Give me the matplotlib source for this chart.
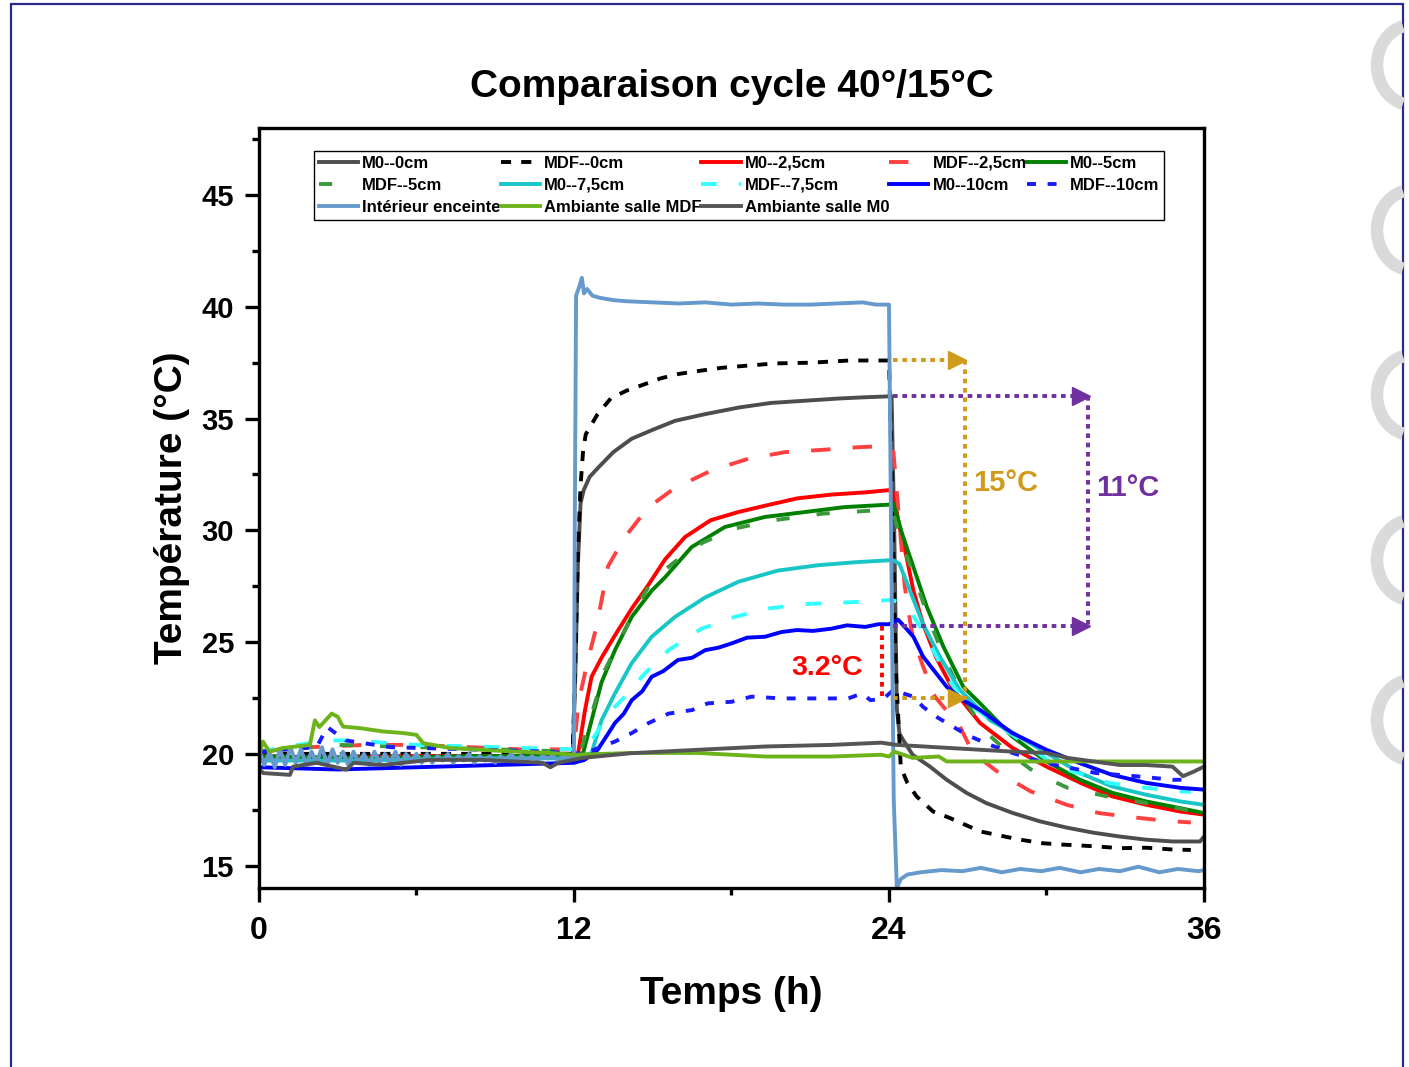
import matplotlib
matplotlib.use("Agg")
import matplotlib.pyplot as plt
from matplotlib.patches import Rectangle, Arc

# ---- data (time in h, temperature in degC) ----
m0_0_t = [0, 2, 4, 6, 8, 10, 11.95, 12.05, 12.15, 12.25, 12.37, 12.6, 13.0, 13.5, 14.2, 15.0, 15.85,
          17.0, 18.3, 19.5, 20.8, 22.1, 23.0, 24.1, 24.2, 24.3, 24.4, 24.55, 24.9, 25.56, 26.2, 26.96,
          27.7, 28.7, 29.75, 30.77, 31.8, 32.8, 33.8, 34.8, 35.85, 36.0]
m0_0_T = [19.9, 19.8, 19.9, 19.9, 19.9, 19.9, 19.9, 23.5, 28.5, 31.2, 31.8, 32.4, 32.9, 33.5, 34.1, 34.5,
          34.9, 35.2, 35.5, 35.7, 35.8, 35.9, 35.95, 36.0, 30.0, 22.0, 20.9, 20.6, 19.96, 19.43, 18.84,
          18.25, 17.8, 17.36, 16.98, 16.7, 16.47, 16.3, 16.16, 16.08, 16.08, 16.3]

mdf_0_t = [0, 3, 6, 9, 11.95, 12.05, 12.15, 12.25, 12.35, 12.45, 12.9, 13.4, 14.0, 14.6, 15.3, 16.0,
           16.8, 17.6, 18.6, 19.7, 21.0, 22.5, 24.0, 24.1, 24.25, 24.45, 24.7, 25.05, 25.68, 26.3,
           26.9, 27.47, 28.2, 29.0, 29.87, 30.6, 31.3, 32.0, 32.8, 33.8, 34.8, 35.5]
mdf_0_T = [20.0, 20.0, 20.0, 20.0, 20.0, 24.0, 29.0, 32.0, 33.6, 34.3, 35.2, 35.9, 36.25, 36.5, 36.8,
           37.0, 37.14, 37.27, 37.37, 37.47, 37.5, 37.6, 37.6, 33.0, 24.0, 19.4, 18.7, 18.1, 17.42,
           17.14, 16.83, 16.53, 16.35, 16.16, 16.0, 15.94, 15.9, 15.85, 15.78, 15.8, 15.72, 15.7]

m0_25_t = [0, 3, 6, 9, 12.0, 12.16, 12.42, 12.67, 13.05, 13.56, 14.2, 14.8, 15.47, 16.23, 17.2, 18.26,
           19.27, 20.5, 21.8, 23.1, 24.0, 24.17, 24.4, 24.67, 24.93, 25.3, 25.8, 26.45, 27.47, 28.7,
           30.0, 31.3, 32.5, 33.8, 35.1, 36.0]
m0_25_T = [19.9, 19.8, 19.9, 19.9, 19.9, 20.04, 21.96, 23.45, 24.3, 25.3, 26.5, 27.5, 28.7, 29.7, 30.45,
           30.82, 31.1, 31.43, 31.6, 31.7, 31.8, 31.64, 30.15, 28.8, 27.3, 25.8, 24.3, 22.86, 21.38,
           20.27, 19.43, 18.7, 18.1, 17.72, 17.42, 17.28]

mdf_25_t = [0, 2, 4, 6, 8, 10, 12.0, 12.17, 12.53, 12.86, 13.3, 13.94, 14.83, 15.85, 17.24, 18.63,
            20.04, 21.44, 22.83, 24.0, 24.17, 24.35, 24.6, 24.86, 25.25, 25.75, 26.7, 27.2, 28.2,
            29.4, 30.77, 32.0, 33.3, 34.6, 35.5]
mdf_25_T = [20.1, 20.3, 20.4, 20.4, 20.3, 20.2, 20.2, 22.3, 24.2, 25.7, 28.4, 29.7, 31.03, 31.9, 32.68,
            33.2, 33.5, 33.6, 33.72, 33.78, 33.5, 31.0, 27.5, 25.5, 24.06, 22.56, 21.22, 20.04, 19.14,
            18.32, 17.72, 17.35, 17.16, 17.0, 16.93]

m0_5_t = [0, 4, 8, 12.0, 12.35, 12.67, 13.05, 13.56, 14.2, 14.96, 15.47, 16.48, 17.75, 19.28, 20.8,
          22.3, 24.0, 24.17, 24.5, 24.93, 25.44, 26.07, 26.83, 27.47, 28.7, 30.0, 31.28, 32.5, 33.8,
          35.1, 36.0]
m0_5_T = [19.9, 19.8, 19.9, 19.9, 20.04, 21.5, 23.2, 24.64, 26.13, 27.3, 27.9, 29.25, 30.15, 30.6,
          30.82, 31.04, 31.15, 31.2, 29.85, 28.36, 26.58, 24.8, 23.0, 22.26, 20.77, 19.66, 18.84,
          18.26, 17.87, 17.57, 17.35]

mdf_5_t = [0, 3, 6, 9, 12.0, 12.3, 12.6, 13.18, 14.3, 15.0, 15.85, 16.9, 18.2, 19.6, 21.5, 23.6, 24.0,
           24.2, 24.5, 25.0, 25.5, 26.1, 26.8, 27.6, 28.6, 29.6, 30.8, 32.3, 33.8, 35.1, 36.0]
mdf_5_T = [20.1, 20.4, 20.3, 20.2, 20.1, 20.3, 21.5, 23.75, 26.4, 27.8, 28.6, 29.45, 30.1, 30.45,
           30.75, 30.9, 30.95, 30.6, 29.4, 27.8, 26.1, 24.3, 22.6, 21.07, 20.0, 19.14, 18.48, 18.1,
           17.8, 17.55, 17.3]

m0_75_t = [0, 4, 8, 12.0, 12.67, 13.05, 13.56, 14.2, 14.96, 15.85, 17.0, 18.26, 19.77, 21.3, 22.8,
           24.0, 24.17, 24.4, 24.8, 25.3, 25.94, 26.7, 27.85, 28.7, 30.0, 31.28, 32.5, 33.8, 35.1, 36.0]
m0_75_T = [19.7, 19.7, 19.8, 19.8, 20.04, 21.5, 22.7, 24.06, 25.24, 26.13, 27.0, 27.7, 28.2, 28.44,
           28.58, 28.66, 28.66, 28.5, 27.3, 25.8, 24.34, 22.86, 21.5, 20.95, 20.04, 19.14, 18.54,
           18.17, 17.87, 17.72]

mdf_75_t = [0, 2.5, 3.5, 6, 9, 12.0, 12.5, 12.9, 13.3, 13.94, 14.7, 15.6, 16.86, 18.13, 19.4, 20.67,
            21.94, 23.47, 24.0, 24.2, 24.5, 24.8, 25.43, 26.2, 26.83, 28.7, 30.4, 32.4, 33.8, 35.1,
            35.5]
mdf_75_T = [20.1, 20.6, 20.6, 20.4, 20.3, 20.2, 20.3, 21.0, 21.8, 22.56, 23.6, 24.64, 25.6, 26.13,
            26.5, 26.7, 26.75, 26.84, 26.88, 26.85, 26.74, 26.4, 25.24, 23.45, 22.4, 20.85, 19.43,
            18.7, 18.48, 18.32, 18.3]

m0_10_t = [0, 3, 6, 9, 12.0, 12.4, 12.9, 13.3, 13.56, 13.9, 14.2, 14.6, 14.96, 15.4, 15.96, 16.5,
           17.0, 17.5, 18.0, 18.6, 19.28, 19.9, 20.5, 21.1, 21.8, 22.4, 23.1, 23.6, 24.0, 24.35, 24.6,
           24.93, 25.3, 25.7, 26.2, 26.83, 27.47, 28.7, 30.0, 31.28, 32.5, 33.8, 35.1, 36.0]
m0_10_T = [19.4, 19.3, 19.4, 19.5, 19.6, 19.73, 20.18, 20.9, 21.38, 21.8, 22.4, 22.8, 23.45, 23.7,
           24.2, 24.3, 24.64, 24.75, 24.94, 25.2, 25.24, 25.45, 25.54, 25.5, 25.6, 25.75, 25.68, 25.8,
           25.8, 26.0, 25.68, 25.24, 24.35, 23.75, 23.0, 22.4, 21.96, 20.93, 20.18, 19.58, 19.06,
           18.7, 18.48, 18.4]

mdf_10_t = [0, 2.2, 2.6, 3.3, 5, 8, 11, 12.0, 12.6, 13.0, 13.56, 14.2, 14.83, 15.6, 16.5, 17.1, 18.0,
            18.76, 19.9, 21.2, 22.45, 22.96, 23.3, 23.8, 24.17, 24.55, 24.93, 25.3, 25.8, 26.32,
            26.96, 27.85, 28.73, 30.0, 31.9, 33.5, 34.8, 35.3]
mdf_10_T = [20.1, 20.3, 21.2, 20.6, 20.3, 20.2, 20.1, 20.0, 20.1, 20.3, 20.55, 20.93, 21.37, 21.8,
            21.96, 22.26, 22.33, 22.56, 22.48, 22.48, 22.48, 22.7, 22.4, 22.48, 22.86, 22.7, 22.56,
            22.1, 21.66, 21.3, 20.85, 20.4, 20.03, 19.58, 19.14, 18.99, 18.84, 18.84]

int_t = [0.0, 0.2, 0.4, 0.6, 0.8, 1.0, 1.2, 1.4, 1.6, 1.8, 2.0, 2.2, 2.4, 2.6, 2.8, 3.0, 3.2, 3.4,
         3.6, 3.8, 4.0, 4.2, 4.4, 4.6, 4.8, 5.0, 5.2, 5.4, 5.6, 5.8, 6.0, 6.2, 6.4, 6.6, 6.8, 7.0,
         7.2, 7.4, 7.6, 7.8, 8.0, 8.2, 8.4, 8.6, 8.8, 9.0, 9.2, 9.4, 9.6, 9.8, 10.0, 10.2, 10.4,
         10.6, 10.8, 11.0, 11.2, 11.4, 11.6, 11.8, 12.0,
         12.03, 12.08, 12.2, 12.3, 12.38, 12.5, 12.7, 13.0, 13.5, 14.0, 15.0, 16.0, 17.0, 18.0,
         19.0, 20.0, 21.0, 22.0, 23.0, 23.5, 24.0,
         24.08, 24.18, 24.3, 24.45, 24.7, 25.2, 26.0, 26.8, 27.5, 28.3, 29.0, 29.8, 30.5, 31.3,
         32.0, 32.8, 33.5, 34.3, 35.0, 35.8, 36.0]
int_T = [20.2, 19.5, 20.1, 19.4, 20.2, 19.5, 20.3, 19.6, 20.2, 19.5, 20.1, 19.6, 20.3, 19.5, 20.2,
         19.6, 20.1, 19.5, 20.1, 19.6, 20.0, 19.5, 20.1, 19.6, 20.0, 19.6, 20.1, 19.5, 20.0, 19.7,
         20.0, 19.6, 20.0, 19.6, 19.9, 19.7, 20.0, 19.6, 19.9, 19.7, 20.0, 19.6, 19.9, 19.7, 19.9,
         19.6, 19.9, 19.7, 20.0, 19.7, 19.9, 19.7, 19.9, 19.7, 19.9, 19.8, 19.9, 19.7, 19.9, 19.8,
         19.8,
         30.0, 40.5, 40.9, 41.3, 40.6, 40.8, 40.5, 40.4, 40.3, 40.25, 40.2, 40.15, 40.2, 40.1,
         40.15, 40.1, 40.1, 40.15, 40.2, 40.1, 40.1,
         30.0, 18.0, 14.0, 14.4, 14.6, 14.7, 14.8, 14.75, 14.9, 14.7, 14.85, 14.75, 14.9, 14.7,
         14.85, 14.75, 14.95, 14.7, 14.85, 14.75, 14.8]

amb_mdf_t = [0, 0.15, 0.4, 0.9, 1.94, 2.13, 2.3, 2.77, 3.0, 3.2, 3.85, 4.73, 5.5, 6.0, 6.25, 7.28,
             8.5, 9.8, 11.1, 12.1, 14.2, 16.7, 19.3, 21.8, 23.7, 24.0, 24.2, 24.9, 25.9, 26.2, 28.7,
             31.3, 36.0]
amb_mdf_T = [19.9, 20.55, 20.1, 20.26, 20.4, 21.5, 21.2, 21.8, 21.66, 21.22, 21.15, 21.0, 20.93,
             20.85, 20.48, 20.26, 20.18, 20.1, 20.04, 19.96, 20.04, 20.04, 19.88, 19.88, 19.96,
             19.88, 20.1, 19.82, 19.88, 19.66, 19.66, 19.66, 19.66]

amb_m0_t = [0, 0.17, 1.18, 1.3, 2.2, 3.34, 3.6, 4.73, 6.5, 8.5, 10.8, 11.1, 11.4, 12.35, 14.18, 16.7,
            19.3, 21.8, 23.7, 24.3, 26.2, 28.7, 30.0, 30.8, 31.8, 32.8, 33.8, 34.8, 35.2, 35.6, 36.0]
amb_m0_T = [19.3, 19.14, 19.06, 19.43, 19.6, 19.29, 19.6, 19.5, 19.73, 19.73, 19.6, 19.4, 19.6,
            19.82, 20.03, 20.18, 20.33, 20.4, 20.5, 20.4, 20.27, 20.1, 20.04, 19.82, 19.66, 19.5,
            19.5, 19.43, 19.0, 19.2, 19.43]

labels = ["M0--0cm", "MDF--0cm", "M0--2,5cm", "MDF--2,5cm", "M0--5cm",
          "MDF--5cm", "M0--7,5cm", "MDF--7,5cm", "M0--10cm", "MDF--10cm",
          "Intérieur enceinte", "Ambiante salle MDF", "Ambiante salle M0"]

# annotation levels
gold_top, gold_bottom, gold_x = 37.6, 22.5, 26.9
purple_top, purple_bottom, purple_x = 36.0, 25.7, 31.6
red_x, red_top, red_bottom = 23.75, 25.7, 22.55
arrow_start = 24.15

GOLD = "#D09A1A"
PURPLE = "#7030A0"

fig = plt.figure(figsize=(14.09, 10.67), dpi=100)
ax = fig.add_axes([0.1838, 0.1678, 0.6707, 0.7122])

series = [
    (m0_0_t, m0_0_T, "#4D4D4D", None),
    (mdf_0_t, mdf_0_T, "#000000", (2.6, 2.6)),
    (m0_25_t, m0_25_T, "#FF0000", None),
    (mdf_25_t, mdf_25_T, "#FF4040", (5, 5.7)),
    (m0_5_t, m0_5_T, "#008000", None),
    (mdf_5_t, mdf_5_T, "#3A993A", (3.4, 7.0)),
    (m0_75_t, m0_75_T, "#19C6C6", None),
    (mdf_75_t, mdf_75_T, "#33FFFF", (4, 5.7)),
    (m0_10_t, m0_10_T, "#0000FF", None),
    (mdf_10_t, mdf_10_T, "#1A1AFF", (2.3, 3)),
    (int_t, int_T, "#6699CC", None),
    (amb_mdf_t, amb_mdf_T, "#6DB31B", None),
    (amb_m0_t, amb_m0_T, "#555555", None),
]

handles = []
for (t, T, c, d), lab in zip(series, labels):
    ln, = ax.plot(t, T, color=c, lw=2.8, label=lab)
    if d is not None:
        ln.set_dashes(d)
    handles.append(ln)

# annotations: dotted brackets
dot = (0, (1.2, 1.2))
ax.plot([arrow_start, gold_x], [gold_top, gold_top], color=GOLD, lw=2.8, ls=dot)
ax.plot([arrow_start, gold_x], [gold_bottom, gold_bottom], color=GOLD, lw=2.8, ls=dot)
ax.plot([gold_x, gold_x], [gold_top, gold_bottom], color=GOLD, lw=2.8, ls=dot)
ax.plot([gold_x - 0.3] * 2, [gold_top, gold_bottom], ls="none", marker=">", ms=13, color=GOLD)

ax.plot([arrow_start, purple_x], [purple_top, purple_top], color=PURPLE, lw=2.8, ls=dot)
ax.plot([arrow_start, purple_x], [purple_bottom, purple_bottom], color=PURPLE, lw=2.8, ls=dot)
ax.plot([purple_x, purple_x], [purple_top, purple_bottom], color=PURPLE, lw=2.8, ls=dot)
ax.plot([purple_x - 0.3] * 2, [purple_top, purple_bottom], ls="none", marker=">", ms=13, color=PURPLE)

ax.plot([red_x, red_x], [red_top, red_bottom], color="#FF0000", lw=2.8, ls=dot)

bold = dict(family="Liberation Sans", fontweight="bold")
ax.text(gold_x + 0.3, 32.1, "15°C", color=GOLD, fontsize=21, va="center", **bold)
ax.text(purple_x + 0.3, 31.9, "11°C", color=PURPLE, fontsize=21, va="center", **bold)
ax.text(23.0, 23.85, "3.2°C", color="#FF0000", fontsize=20.5, va="center", ha="right", **bold)

# axes
ax.set_xlim(0, 36)
ax.set_ylim(14, 48)
ax.set_xticks([0, 12, 24, 36])
ax.set_xticks([6, 18, 30], minor=True)
ax.set_yticks([15, 20, 25, 30, 35, 40, 45])
ax.set_yticks([17.5, 22.5, 27.5, 32.5, 37.5, 42.5, 47.5], minor=True)
for s in ax.spines.values():
    s.set_linewidth(2.4)
ax.tick_params(which="major", direction="out", length=10, width=2.4)
ax.tick_params(which="minor", direction="out", length=5, width=2.4)
ax.tick_params(axis="y", pad=8)
ax.tick_params(axis="x", pad=10)

for lb in ax.get_xticklabels():
    lb.set_family("Liberation Sans")
    lb.set_fontweight("bold")
    lb.set_fontsize(23)
for lb in ax.get_yticklabels():
    lb.set_family("Liberation Sans")
    lb.set_fontweight("bold")
    lb.set_fontsize(21)

ax.set_xlabel("Temps (h)", fontsize=28, labelpad=22, **bold)
ax.set_ylabel("Température (°C)", fontsize=28, labelpad=8, **bold)
ax.set_title("Comparaison cycle 40°/15°C", fontsize=28, pad=22, **bold)

order = [0, 5, 10, 1, 6, 11, 2, 7, 12, 3, 8, 4, 9]
leg = ax.legend([handles[i] for i in order], [labels[i] for i in order], ncol=5,
                loc="upper left", bbox_to_anchor=(0.058, 0.970), borderaxespad=0,
                frameon=True, fancybox=False, edgecolor="black", framealpha=1,
                prop=dict(family="Liberation Sans", weight="bold", size=12),
                handlelength=2.35, handletextpad=0.25, columnspacing=0.0,
                labelspacing=0.42, borderpad=0.3)
leg.get_frame().set_linewidth(1.0)

# page frame and decorative marks
W, H = 1409, 1067
fig.add_artist(Rectangle((11 / W, -0.01), (1403 - 11) / W, 1.01 - 4 / H, fill=False,
                         edgecolor="#2B2B8C", lw=1.6, transform=fig.transFigure))
for cy in [65, 230, 395, 560, 720]:
    fig.add_artist(Arc((1412 / W, 1 - cy / H), 70 / W, 80 / H, theta1=100, theta2=260,
                       lw=9, color="#DADADA", transform=fig.transFigure))

fig.savefig("out.png", dpi=100)
